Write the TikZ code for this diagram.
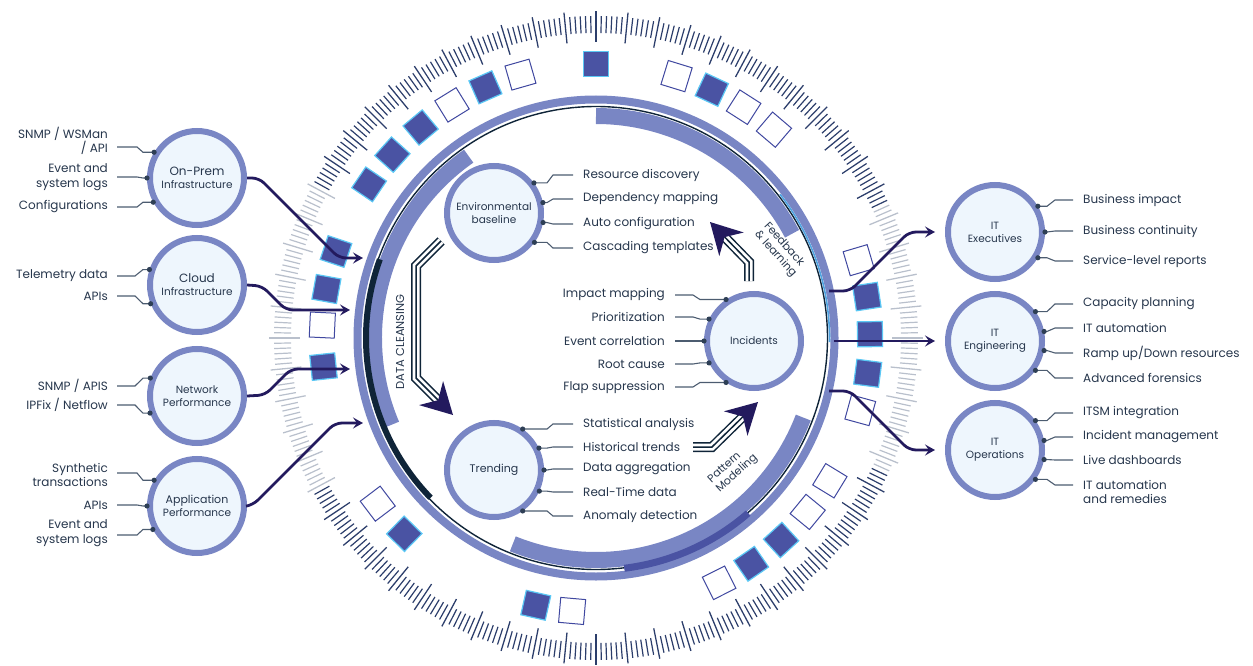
\documentclass[tikz,border=0pt]{standalone}
\usepackage{fontspec}
\setmainfont{Poppins}
\usetikzlibrary{arrows.meta,calc}
\definecolor{ringc}{HTML}{7986C4}
\definecolor{sqfill}{HTML}{4A53A3}
\definecolor{sqedge}{HTML}{5BC8F5}
\definecolor{emptyedge}{HTML}{4048A0}
\definecolor{nodefill}{HTML}{EEF6FD}
\definecolor{txt}{HTML}{26364C}
\definecolor{labc}{HTML}{4C5C70}
\definecolor{dotcol}{HTML}{2E3F55}
\definecolor{arrc}{HTML}{231A5E}
\definecolor{darkc}{HTML}{0F2438}
\definecolor{tickn}{HTML}{2C3E6B}
\definecolor{tickg}{HTML}{B9C0CC}
\definecolor{bluec}{HTML}{4FA3E0}
\tikzset{
  bub/.style={circle, draw=ringc, line width=6bp, fill=nodefill, minimum size=94bp, inner sep=0pt,
    text=txt, font=\fontsize{10.5bp}{13bp}\selectfont, align=center},
  lblL/.style={anchor=east, inner sep=0pt, align=right, text=txt, font=\fontsize{12bp}{14.5bp}\selectfont},
  lblR/.style={anchor=west, inner sep=0pt, align=left, text=txt, font=\fontsize{12bp}{14.5bp}\selectfont},
  lab/.style={draw=labc, line width=1.1bp},
  flow/.style={draw=arrc, line width=2.8bp, rounded corners=7bp, -{Stealth[length=10bp,width=11bp,inset=4bp]}},
  sqF/.style={draw=sqedge, fill=sqfill, line width=1.2bp, minimum size=25bp, inner sep=0pt},
  sqE/.style={draw=emptyedge, fill=white, line width=1bp, minimum size=25bp, inner sep=0pt},
  rottxt/.style={text=txt, inner sep=0pt, align=left, font=\fontsize{11bp}{12.5bp}\selectfont},
}
\newcommand\conn[4]{\draw[lab] (#1) -- ++(#2,0) -- (#3 |- #4) -- (#4); \fill[dotcol] (#4) circle (2.6bp);}
% #1 path, #2 tip coordinate name, #3 canvas direction angle
\newcommand\triarrow[3]{%
  \draw[darkc, line width=10bp, shorten >=20bp] #1;
  \draw[white, line width=7bp, shorten >=20bp] #1;
  \draw[darkc, line width=1.5bp, shorten >=20bp] #1;
  \begin{scope}[shift={(#2)}, rotate=#3, y=1bp]
    \fill[arrc] (0,0) -- (-31,17) -- (-21,0) -- (-31,-17) -- cycle;
  \end{scope}}
\begin{document}
\begin{tikzpicture}[x=1bp,y=-1bp]
\useasboundingbox (0,0) rectangle (1253,666);

% ---------------- ring ----------------
\begin{scope}[shift={(596,338)}, y=1bp]
  \foreach \i in {0,...,383}{
    \pgfmathsetmacro\a{\i*0.9375}
    \pgfmathsetmacro\dl{abs(\a-180)}
    \pgfmathsetmacro\dr{min(\a,360-\a)}
    \pgfmathtruncatemacro\g{or(\dl<29,\dr<25)}
    \ifnum\g=1 \def\tc{tickg}\else\def\tc{tickn}\fi
    \pgfmathtruncatemacro\m{mod(\i,6)}
    \ifnum\m=0
      \draw[\tc, line width=1.3bp] (\a:296) -- (\a:327);
    \else
      \draw[\tc, line width=1.2bp] (\a:305) -- (\a:322);
    \fi
  }
  \draw[ringc, line width=8bp] (0,0) circle (238.5);
  \draw[ringc, line width=16bp] (90:222) arc[start angle=90, end angle=28, radius=222];
  \draw[ringc, line width=16bp] (125:222) arc[start angle=125, end angle=203, radius=222];
  \draw[ringc, line width=16bp] (248:222) arc[start angle=248, end angle=339, radius=222];
  \draw[darkc, line width=1.4bp] (0,0) circle (231.5);
  \draw[darkc, line width=6bp] (160:230) arc[start angle=160, end angle=224, radius=230];
  \draw[sqfill, line width=7bp] (277:232) arc[start angle=277, end angle=311, radius=232];
  \draw[bluec, line width=1.6bp] (38:233.5) arc[start angle=38, end angle=-1, radius=233.5];
  \foreach \a in {145.9,138,129.8,113.8,90,65,8.7,0.8,-7.4,-47.5,-55.5,257.3,225.6,161.6,169.7,186}
    \node[sqF, rotate=\a] at (\a:274) {};
  \foreach \a in {121.7,106,72.9,57.4,49.5,16.5,-15.3,-31.4,-39.4,-63.3,265,217.2,177.3}
    \node[sqE, rotate=\a] at (\a:274) {};
\end{scope}

% ---------------- column coordinates ----------------
\coordinate (kL) at (143,0);
\coordinate (kI) at (700,0);
\coordinate (kE) at (547,0);
\coordinate (kR) at (1047,0);

% ---------------- nodes ----------------
\node[bub] (onprem) at (197,178) {{\fontsize{12bp}{13bp}\selectfont On-Prem}\\Infrastructure};
\node[bub] (cloud) at (197,285) {{\fontsize{12bp}{13bp}\selectfont Cloud}\\Infrastructure};
\node[bub] (network) at (197,396) {Network\\Performance};
\node[bub] (app) at (197,506) {{\fontsize{11bp}{13bp}\selectfont Application}\\Performance};
\node[bub] (env) at (494,213) {Environmental\\baseline};
\node[bub] (inc) at (754,341) {Incidents};
\node[bub] (trend) at (494,470) {{\fontsize{11bp}{13bp}\selectfont Trending}};
\node[bub] (exec) at (995,232) {IT\\Executives};
\node[bub] (eng) at (995,341) {IT\\Engineering};
\node[bub] (ops) at (995,450) {IT\\Operations};

% ---------------- left labels ----------------
\node[lblL] (l1) at (108,141) {SNMP / WSMan\\/ API};
\node[lblL] (l2) at (108,177) {Event and\\system logs};
\node[lblL] (l3) at (108,207) {Configurations};
\node[lblL] (l4) at (108,276) {Telemetry data};
\node[lblL] (l5) at (108,296) {APIs};
\node[lblL] (l6) at (108,386) {SNMP / APIS};
\node[lblL] (l7) at (108,405) {IPFix / Netflow};
\node[lblL] (l8) at (108,475) {Synthetic\\transactions};
\node[lblL] (l9) at (108,505) {APIs};
\node[lblL] (l10) at (108,533) {Event and\\system logs};
\conn{[xshift=9bp,yshift=-6bp]l1.east}{20}{kL}{onprem.149}
\conn{[xshift=9bp]l2.east}{20}{kL}{onprem.180}
\conn{[xshift=9bp]l3.east}{20}{kL}{onprem.209}
\conn{[xshift=9bp]l4.east}{18}{kL}{cloud.162}
\conn{[xshift=9bp]l5.east}{18}{kL}{cloud.202}
\conn{[xshift=9bp]l6.east}{18}{kL}{network.159}
\conn{[xshift=9bp]l7.east}{18}{kL}{network.200}
\conn{[xshift=9bp,yshift=2bp]l8.east}{20}{kL}{app.149}
\conn{[xshift=9bp]l9.east}{20}{kL}{app.180}
\conn{[xshift=9bp,yshift=-2bp]l10.east}{20}{kL}{app.208}

% ---------------- environmental baseline labels ----------------
\node[lblR] (e1) at (583,175) {Resource discovery};
\node[lblR] (e2) at (583,199) {Dependency mapping};
\node[lblR] (e3) at (583,224) {Auto configuration};
\node[lblR] (e4) at (583,248) {Cascading templates};
\conn{[xshift=-10bp]e1.west}{-20}{kE}{env.37}
\conn{[xshift=-10bp]e2.west}{-20}{kE}{env.12}
\conn{[xshift=-10bp]e3.west}{-20}{kE}{env.-11}
\conn{[xshift=-10bp]e4.west}{-20}{kE}{env.-36}

% ---------------- incidents labels ----------------
\node[lblL] (i1) at (665,295) {Impact mapping};
\node[lblL] (i2) at (665,317) {Prioritization};
\node[lblL] (i3) at (665,341) {Event correlation};
\node[lblL] (i4) at (665,364) {Root cause};
\node[lblL] (i5) at (665,387) {Flap suppression};
\conn{[xshift=10bp]i1.east}{18}{kI}{inc.124}
\conn{[xshift=10bp]i2.east}{18}{kI}{inc.154}
\conn{[xshift=10bp]i3.east}{18}{kI}{inc.180}
\conn{[xshift=10bp]i4.east}{18}{kI}{inc.206}
\conn{[xshift=10bp]i5.east}{18}{kI}{inc.236}

% ---------------- trending labels ----------------
\node[lblR] (t1) at (583,424) {Statistical analysis};
\node[lblR] (t2) at (583,447) {Historical trends};
\node[lblR] (t3) at (583,469) {Data aggregation};
\node[lblR] (t4) at (583,492) {Real-Time data};
\node[lblR] (t5) at (583,516) {Anomaly detection};
\conn{[xshift=-10bp]t1.west}{-20}{kE}{trend.55}
\conn{[xshift=-10bp]t2.west}{-20}{kE}{trend.26}
\conn{[xshift=-10bp]t3.west}{-20}{kE}{trend.0}
\conn{[xshift=-10bp]t4.west}{-20}{kE}{trend.-25}
\conn{[xshift=-10bp]t5.west}{-20}{kE}{trend.-55}

% ---------------- right labels ----------------
\node[lblR] (r1) at (1083,200) {Business impact};
\node[lblR] (r2) at (1083,231) {Business continuity};
\node[lblR] (r3) at (1083,261) {Service-level reports};
\node[lblR] (r4) at (1083,304) {Capacity planning};
\node[lblR] (r5) at (1083,328) {IT automation};
\node[lblR] (r6) at (1083,353) {Ramp up/Down resources};
\node[lblR] (r7) at (1083,378) {Advanced forensics};
\node[lblR] (r8) at (1083,413) {ITSM integration};
\node[lblR] (r9) at (1083,437) {Incident management};
\node[lblR] (r10) at (1083,460) {Live dashboards};
\node[lblR] (r11) at (1083,492) {IT automation\\and remedies};
\conn{[xshift=-10bp]r1.west}{-18}{kR}{exec.31}
\conn{[xshift=-10bp]r2.west}{-18}{kR}{exec.0}
\conn{[xshift=-10bp]r3.west}{-18}{kR}{exec.-31}
\conn{[xshift=-10bp]r4.west}{-18}{kR}{eng.36}
\conn{[xshift=-10bp]r5.west}{-18}{kR}{eng.11}
\conn{[xshift=-10bp]r6.west}{-18}{kR}{eng.-11}
\conn{[xshift=-10bp]r7.west}{-18}{kR}{eng.-36}
\conn{[xshift=-10bp]r8.west}{-18}{kR}{ops.36}
\conn{[xshift=-10bp]r9.west}{-18}{kR}{ops.11}
\conn{[xshift=-10bp]r10.west}{-18}{kR}{ops.-11}
\conn{[xshift=-10bp,yshift=7bp]r11.west}{-18}{kR}{ops.-36}

% ---------------- flow arrows ----------------
\coordinate (inA) at (363,258);
\coordinate (inB) at (350,310);
\coordinate (inC) at (350,369);
\coordinate (inD) at (363,423);
\draw[flow] (onprem.east) -- (259,178) -- (339,258) -- (inA);
\draw[flow] (cloud.east) -- (262,286) -- (286,310) -- (inB);
\draw[flow] (network.east) -- (265,395) -- (291,369) -- (inC);
\draw[flow] (app.east) -- (253,505) -- (335,423) -- (inD);
\coordinate (outE) at (829,291);
\coordinate (outG) at (834,341);
\coordinate (outO) at (829,391);
\draw[flow, shorten >=10bp] (outE) -- (850,291) -- (909,232) -- (exec.west);
\draw[flow, shorten >=10bp] (outG) -- (eng.west);
\draw[flow, shorten >=10bp] (outO) -- (850,391) -- (909,450) -- (ops.west);

% ---------------- triple arrows ----------------
\coordinate (dcA) at (441,241);
\coordinate (dcB) at (453,415);
\coordinate (pmA) at (693,447);
\coordinate (pmB) at (758,402);
\coordinate (fbA) at (749,281);
\coordinate (fbB) at (710,222);
\triarrow{(dcA) -- (416,266) -- (416,378) -- (dcB)}{dcB}{-45}
\triarrow{(pmA) -- (712,447) -- (pmB)}{pmB}{44}
\triarrow{(fbA) -- (749,262) -- (fbB)}{fbB}{134}

\node[text=txt, inner sep=0pt, rotate=90, font=\fontsize{11.5bp}{12bp}\selectfont] (dc) at (400,342) {DATA CLEANSING};
\node[rottxt, rotate=-48] (fb) at (780,250) {Feedback\\\& learning};
\node[rottxt, rotate=42] (pm) at (733,469) {Pattern\\Modeling};
\end{tikzpicture}
\end{document}
